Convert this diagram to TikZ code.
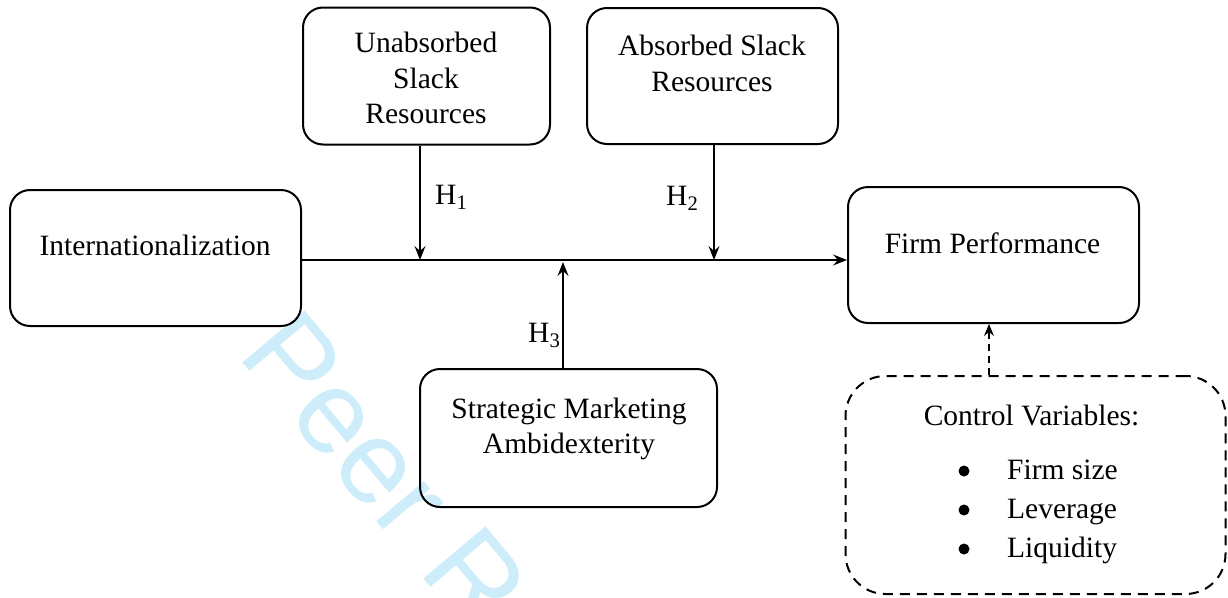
\documentclass[tikz,border=0pt]{standalone}
\usepackage{fontspec}
\setmainfont{Liberation Serif}
\newfontfamily\wmfont{Liberation Sans}
\usetikzlibrary{arrows.meta}
\definecolor{wm}{RGB}{205,237,250}
\begin{document}
\begin{tikzpicture}[x=1pt,y=-1pt,
  box/.style={draw,line width=2pt,rounded corners=20pt,inner sep=0pt},
  lbl/.style={font=\fontsize{29.5}{35.5}\selectfont,align=center,inner sep=0pt},
  arr/.style={line width=1.3pt,-{Stealth[length=14pt,width=11pt,inset=5pt]}},
  darr/.style={line width=1.3pt,dash pattern=on 7pt off 5pt,-{Stealth[length=12pt,width=10pt,inset=4pt]}},
  bul/.style={circle,fill,inner sep=0pt,minimum size=11pt}
]
\useasboundingbox (0,0) rectangle (1228,597);
\clip (0,0) rectangle (1228,597);
% watermark
\node[font=\wmfont\fontsize{118}{118}\selectfont,text=wm,rotate=-50,anchor=base west,inner sep=0pt] (wmark) at (236,355) {Peer Review};
% boxes
\node[box,minimum width=247pt,minimum height=137pt] (unabs) at (426.5,76) {};
\node[box,minimum width=251pt,minimum height=136pt] (abs) at (712.5,76) {};
\node[box,minimum width=291pt,minimum height=136pt] (intl) at (155.5,258) {};
\node[box,minimum width=291pt,minimum height=136pt] (firm) at (993.5,255) {};
\node[box,minimum width=297pt,minimum height=138pt] (strat) at (568.5,438) {};
\node[box,dash pattern=on 10pt off 7pt,rounded corners=40pt,minimum width=380pt,minimum height=218pt] (ctrl) at (1035.5,485) {};
% texts
\node[lbl] (tunabs) at (426,78) {Unabsorbed\\Slack\\Resources};
\node[lbl] (tabs) at (712,63.5) {Absorbed Slack\\Resources};
\node[lbl] (tintl) at (155,245) {Internationalization};
\node[lbl] (tfirm) at (992.5,243) {Firm Performance};
\node[lbl] (tstrat) at (569,429) {Strategic Marketing\\Ambidexterity};
\node[lbl,anchor=base] (tctrl) at (1031.5,425) {Control Variables:};
\node[lbl,anchor=base west] (it1) at (1007,479) {Firm size};
\node[lbl,anchor=base west] (it2) at (1007,518) {Leverage};
\node[lbl,anchor=base west] (it3) at (1007,557) {Liquidity};
\node[bul] (b1) at (964,471) {};
\node[bul] (b2) at (964,510) {};
\node[bul] (b3) at (964,549) {};
% hypothesis labels
\node[lbl,anchor=base west] (h1) at (435,204) {H\textsubscript{1}};
\node[lbl,anchor=base west] (h2) at (666,205) {H\textsubscript{2}};
\node[lbl,anchor=base west] (h3) at (528,342) {H\textsubscript{3}};
% junctions
\coordinate (j1) at (420,260);
\coordinate (j2) at (714,260);
\coordinate (j3) at (563,262);
\coordinate (dx) at (989,0);
% connectors
\draw[arr] ([yshift=-2pt]intl.east) -- ([yshift=-5pt]firm.west);
\draw[arr] (j1 |- unabs.south) -- (j1);
\draw[arr] (j2 |- abs.south) -- (j2);
\draw[arr] (j3 |- strat.north) -- (j3);
\draw[darr] (dx |- ctrl.north) -- (dx |- firm.south);
\end{tikzpicture}
\end{document}
